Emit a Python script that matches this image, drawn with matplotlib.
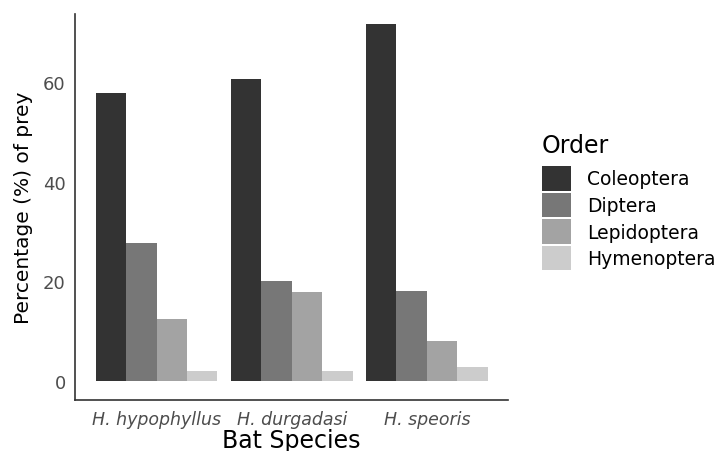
import matplotlib.pyplot as plt
import numpy as np

plt.rcParams['font.family'] = ['DejaVu Sans']

# Data
species = ["H. hypophyllus", "H. durgadasi", "H. speoris"]
orders = ["Coleoptera", "Diptera", "Lepidoptera", "Hymenoptera"]
coleoptera = [57.8, 60.6, 71.7]
diptera = [27.8, 20.0, 18.0]
lepidoptera = [12.4, 17.8, 8.0]
hymenoptera = [2.0, 2.0, 2.8]
colors = ["#333333", "#777777", "#A3A3A3", "#CCCCCC"]

values = [coleoptera, diptera, lepidoptera, hymenoptera]

fig = plt.figure(figsize=(7.18, 4.52), dpi=100)
ax = fig.add_axes([0.105, 0.113, 0.6025, 0.854])

x = np.arange(1, len(species) + 1)
width = 0.9 / len(orders)
for i, (name, vals) in enumerate(zip(orders, values)):
    offset = (i - 1.5) * width
    ax.bar(x + offset, vals, width, color=colors[i], label=name)

ax.set_xlim(0.4, 3.6)
ax.set_ylim(-3.8, 73.7)
ax.set_xticks(x)
ax.set_xticklabels(species, fontstyle="italic", fontsize=12.5, color="#4D4D4D")
ax.set_yticks([0, 20, 40, 60])
ax.tick_params(axis="y", labelsize=13, labelcolor="#4D4D4D", length=0, pad=7)
ax.tick_params(axis="x", length=0, pad=7)

for side in ["top", "right"]:
    ax.spines[side].set_visible(False)
for side in ["left", "bottom"]:
    ax.spines[side].set_color("#333333")
    ax.spines[side].set_linewidth(1.2)

ax.set_xlabel("Bat Species", fontsize=17, labelpad=0)
ax.set_ylabel("Percentage (%) of prey", fontsize=14.5, labelpad=7)

# legend title placed by hand, keys below it
fig.text(0.755, 0.677, "Order", fontsize=17, ha="left", va="center")
leg = ax.legend(loc="upper left", bbox_to_anchor=(0.755, 0.6305),
                bbox_transform=fig.transFigure, frameon=False, fontsize=13.5,
                handlelength=1.55, handleheight=1.65,
                labelspacing=0.1, handletextpad=0.85, borderpad=0,
                borderaxespad=0)

fig.savefig("out.png", dpi=100)
